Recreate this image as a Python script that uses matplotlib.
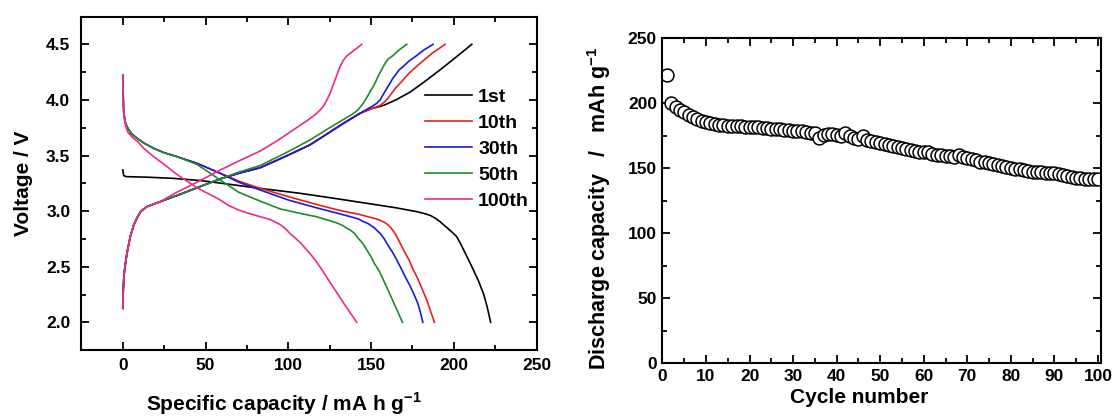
import numpy as np
import matplotlib
matplotlib.use("Agg")
import matplotlib.pyplot as plt
from matplotlib.ticker import MultipleLocator

plt.rcParams['font.family'] = ['Liberation Sans', 'DejaVu Sans']
plt.rcParams['font.weight'] = 'bold'
plt.rcParams['mathtext.fontset'] = 'custom'
plt.rcParams['mathtext.bf'] = 'Liberation Sans:bold'
plt.rcParams['mathtext.rm'] = 'Liberation Sans:bold'

# --- left panel: voltage profiles (capacity mAh/g, voltage V) ---
# early part that all charge curves share
chg_x0 = [0, 0.3, 0.7, 1.5, 2.5, 4.5, 6.5, 8.6, 11, 14.6, 22.6, 32.7, 44.8, 58.9, 70, 83, 98, 113, 123, 133.4, 143.4, 150]
chg_y0 = [2.126, 2.30, 2.42, 2.52, 2.62, 2.77, 2.87, 2.94, 3.00, 3.04, 3.085, 3.14, 3.21, 3.29, 3.34, 3.39, 3.49, 3.595, 3.69, 3.79, 3.88, 3.92]

chg1_x = chg_x0 + [157.4, 165, 173.6, 182, 191.7, 201, 210.9]
chg1_y = chg_y0 + [3.95, 4.00, 4.07, 4.16, 4.27, 4.38, 4.50]
chg10_x = chg_x0 + [155.5, 158, 160, 163, 165, 167.6, 173, 179.7, 187, 194.8]
chg10_y = chg_y0 + [3.95, 3.98, 4.01, 4.07, 4.11, 4.15, 4.24, 4.33, 4.42, 4.50]
chg30_x = chg_x0[:-1] + [148, 151, 153.5, 155.5, 157, 159, 161.5, 163, 165, 167, 169.4, 173, 177.7, 182, 187.5]
chg30_y = chg_y0[:-1] + [3.92, 3.945, 3.97, 4.00, 4.04, 4.09, 4.15, 4.19, 4.23, 4.27, 4.30, 4.35, 4.40, 4.45, 4.50]
chg50_x = chg_x0[:14] + [70, 83, 98, 113.2, 125, 137.4, 140, 142, 144, 145.3, 147, 148.5, 150, 151.3, 153, 154.5, 156, 157.4, 159, 160.5, 163.4, 167, 171.6]
chg50_y = chg_y0[:14] + [3.35, 3.41, 3.52, 3.64, 3.75, 3.86, 3.885, 3.91, 3.945, 3.97, 4.01, 4.05, 4.09, 4.12, 4.17, 4.22, 4.26, 4.30, 4.34, 4.37, 4.40, 4.45, 4.50]
chg100_x = chg_x0[:11] + [32.7, 44.8, 58.9, 70, 83, 93, 103, 112, 116, 119.3, 121, 123, 125.3, 127, 129, 131.3, 133, 135, 137.4, 141, 144.4]
chg100_y = chg_y0[:11] + [3.17, 3.26, 3.37, 3.45, 3.54, 3.63, 3.73, 3.82, 3.865, 3.91, 3.94, 3.99, 4.06, 4.13, 4.21, 4.30, 4.35, 4.39, 4.42, 4.46, 4.50]

dis1_x = [0, 0.5, 2, 15, 30, 46.8, 60, 80, 107.2, 130, 147.5, 165, 177.7, 183, 186, 189, 191.7, 194, 196, 199, 201.8, 204, 206, 209, 211.9, 215, 217.9, 220, 222.3]
dis1_y = [3.37, 3.32, 3.31, 3.305, 3.295, 3.275, 3.25, 3.21, 3.16, 3.11, 3.07, 3.03, 2.995, 2.975, 2.96, 2.935, 2.905, 2.875, 2.85, 2.81, 2.77, 2.71, 2.65, 2.56, 2.47, 2.37, 2.26, 2.15, 2.00]
# early part that the later discharge curves share
dis_x0 = [0, 0.3, 0.6, 1.5, 2.5, 5, 8.6, 13, 18.6, 25, 32.7, 44.8]
dis_y0 = [4.22, 4.00, 3.88, 3.80, 3.76, 3.70, 3.655, 3.61, 3.565, 3.525, 3.49, 3.43]
dis10_x = dis_x0 + [58.9, 70, 83, 100, 117, 130, 143, 148, 152, 155, 158, 160, 162, 164, 165.6, 168, 170, 173, 175.6, 178, 180, 182, 183.7, 186, 188.3]
dis10_y = dis_y0 + [3.34, 3.27, 3.205, 3.13, 3.06, 3.01, 2.97, 2.95, 2.935, 2.92, 2.90, 2.88, 2.85, 2.81, 2.77, 2.70, 2.64, 2.56, 2.47, 2.40, 2.33, 2.26, 2.20, 2.10, 2.00]
dis30_x = dis_x0 + [58.9, 70, 83, 100, 117, 130, 140, 143, 145.4, 148, 150, 152, 154, 155.5, 158, 160, 163, 165.6, 168, 171, 173.5, 175.7, 178, 179.5, 181.3]
dis30_y = dis_y0 + [3.34, 3.26, 3.19, 3.10, 3.03, 2.98, 2.94, 2.925, 2.905, 2.89, 2.87, 2.85, 2.82, 2.80, 2.75, 2.70, 2.63, 2.56, 2.49, 2.40, 2.33, 2.26, 2.18, 2.11, 2.00]
dis50_x = dis_x0 + [58.9, 70, 83, 95, 107, 117, 127, 130, 133, 135, 137.4, 140, 142, 145, 147.5, 150, 152, 155, 157.5, 160, 163, 166, 169]
dis50_y = dis_y0[:-1] + [3.42, 3.28, 3.17, 3.09, 3.02, 2.98, 2.95, 2.905, 2.89, 2.87, 2.85, 2.83, 2.80, 2.76, 2.71, 2.65, 2.59, 2.53, 2.46, 2.38, 2.30, 2.20, 2.10, 2.00]
dis100_x = [0, 0.3, 0.6, 1.5, 3, 6, 8.6, 13, 18.6, 25, 32.7, 44.8, 58.9, 64, 70, 76, 83, 89, 95, 98, 101, 104, 107, 110, 113, 116.5, 120, 123.5, 127, 130.5, 134, 137.7, 141.4]
dis100_y = [4.22, 4.00, 3.87, 3.78, 3.71, 3.66, 3.63, 3.56, 3.49, 3.42, 3.33, 3.21, 3.10, 3.05, 3.01, 2.98, 2.95, 2.925, 2.88, 2.845, 2.80, 2.76, 2.72, 2.67, 2.62, 2.555, 2.48, 2.40, 2.32, 2.24, 2.16, 2.08, 2.00]

labels = ['1st', '10th', '30th', '50th', '100th']
colors = ['black', '#e8201c', '#1a1adc', '#1e8c2a', '#ec2a8c']

# --- right panel: discharge capacity vs cycle ---
cycles = np.arange(1, 101)
capacity = [221.5, 200.5, 197, 195, 193, 191, 189.5, 188, 186.5, 185.5,
            184.5, 183.7, 183.2, 183, 182.8, 182.6, 182.4, 182.2, 182, 181.8,
            181.6, 181.4, 181.2, 181, 180.6, 180.3, 180, 179.7, 179.4, 179,
            179, 178.3, 178, 177.5, 177, 173.5, 175.5, 176, 176, 175.5,
            175, 177.5, 174.5, 173.5, 172.5, 174.5, 172, 171, 170.2, 169.4,
            168.6, 167.7, 166.8, 166.2, 165.5, 164.9, 164.2, 163.5, 162.8, 162.6,
            162.3, 161, 160.5, 160, 159.6, 159.3, 159, 160.3, 158.5, 157.6,
            156.8, 156, 155.2, 154.5, 153.8, 153.2, 152.6, 151.8, 151, 150.4,
            149.8, 149.2, 148.6, 148, 147.4, 147, 146.8, 146.6, 146.4, 146.2,
            145.8, 145, 144, 143.4, 142.9, 142.5, 142.1, 141.8, 141.6, 141.5]

fig = plt.figure(figsize=(11.14, 4.17), dpi=100)
ax1 = fig.add_axes([0.0731, 0.1604, 0.4085, 0.800])
ax2 = fig.add_axes([0.5947, 0.1288, 0.3932, 0.7794])

charges = [(chg1_x, chg1_y), (chg10_x, chg10_y), (chg30_x, chg30_y), (chg50_x, chg50_y), (chg100_x, chg100_y)]
discharges = [(dis1_x, dis1_y), (dis10_x, dis10_y), (dis30_x, dis30_y), (dis50_x, dis50_y), (dis100_x, dis100_y)]
for (cx, cy), (dx, dy), c, lab in zip(charges, discharges, colors, labels):
    ax1.plot(cx, cy, color=c, lw=1.2, label=lab)
    ax1.plot(dx, dy, color=c, lw=1.2)

ax1.set_xlim(-25, 250)
ax1.set_ylim(1.75, 4.75)
ax1.xaxis.set_major_locator(MultipleLocator(50))
ax1.xaxis.set_minor_locator(MultipleLocator(25))
ax1.yaxis.set_major_locator(MultipleLocator(0.5))
ax1.yaxis.set_minor_locator(MultipleLocator(0.25))
ax1.set_xlabel(r'Specific capacity / mA h g$^{\mathbf{-1}}$', fontsize=15, fontweight='bold')
ax1.xaxis.set_label_coords(0.445, -0.12)
ax1.set_ylabel('Voltage / V', fontsize=15, fontweight='bold', labelpad=9)
ax1.legend(loc='upper left', bbox_to_anchor=(0.755, 0.786), frameon=False, fontsize=14,
           handlelength=2.4, handletextpad=0.33, labelspacing=0.44, borderaxespad=0, borderpad=0)

ax2.plot(cycles, capacity, 'o', ms=9.3, mfc='white', mec='black', mew=1.1)
ax2.set_xlim(0, 100.6)
ax2.set_ylim(0, 250)
ax2.xaxis.set_major_locator(MultipleLocator(10))
ax2.xaxis.set_minor_locator(MultipleLocator(5))
ax2.yaxis.set_major_locator(MultipleLocator(50))
ax2.yaxis.set_minor_locator(MultipleLocator(25))
ax2.set_xlabel('Cycle number', fontsize=15, fontweight='bold')
ax2.xaxis.set_label_coords(0.45, -0.075)
ax2.set_ylabel(r'Discharge capacity   /   mAh g$^{\mathbf{-1}}$', fontsize=15.5, fontweight='bold')
ax2.yaxis.set_label_coords(-0.114, 0.478)

for ax in (ax1, ax2):
    for s in ax.spines.values():
        s.set_linewidth(1.5)
    ax.tick_params(which='both', direction='in', top=True, right=True, width=1.3, labelsize=12.5)
    ax.tick_params(which='major', length=6)
    ax.tick_params(which='minor', length=3.5)
    for t in ax.get_xticklabels() + ax.get_yticklabels():
        t.set_fontweight('bold')
ax1.tick_params(which='major', axis='y', pad=8)
ax1.tick_params(which='major', axis='x', pad=6)
ax2.tick_params(which='major', pad=4)

fig.savefig('out.png', dpi=100)
